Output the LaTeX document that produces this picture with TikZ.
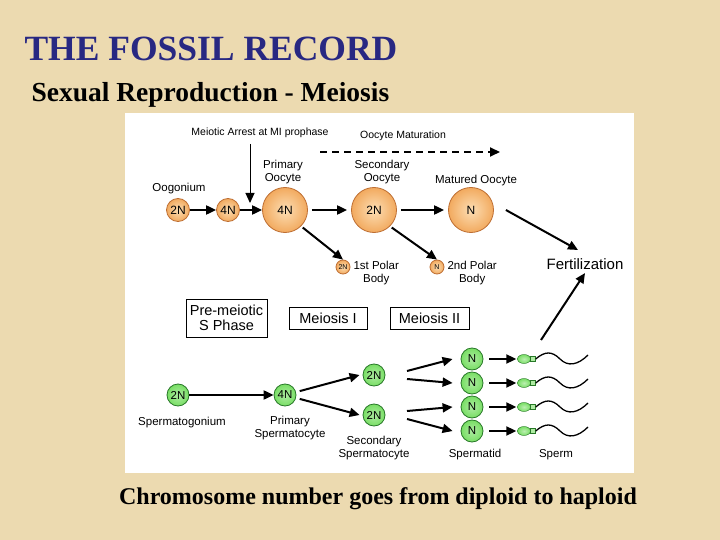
\documentclass[tikz,border=0pt]{standalone}
\usepackage{fontspec}
\setmainfont{Liberation Serif}
\newfontfamily\sa{Liberation Sans}
\usetikzlibrary{arrows.meta,shapes.geometric}
\definecolor{parch}{RGB}{236,218,176}
\definecolor{ttl}{RGB}{40,40,130}
\definecolor{orf}{RGB}{242,170,95}
\definecolor{ori}{RGB}{252,222,180}
\definecolor{oro}{RGB}{190,110,50}
\definecolor{grf}{RGB}{120,222,100}
\definecolor{gro}{RGB}{40,120,40}
\tikzset{
 oc/.style={circle,draw=oro,line width=0.8pt,inner sep=0pt,inner color=ori,outer color=orf,font=\sa\fontsize{12}{12}\selectfont},
 gc/.style={circle,draw=gro,line width=0.8pt,inner sep=0pt,inner color=grf!60!white,outer color=grf,minimum size=22pt,font=\sa\fontsize{11.5}{11.5}\selectfont},
 lab/.style={font=\sa\fontsize{11.5}{13}\selectfont,align=center},
 ar/.style={-{Triangle[length=10pt,width=9pt]},line width=2pt},
 bx/.style={draw,line width=0.8pt,font=\sa\fontsize{14.5}{15}\selectfont,align=center,inner sep=1.5pt}
}
\begin{document}
\begin{tikzpicture}[x=1pt,y=-1pt]
\fill[parch] (0,0) rectangle (720,540);
\useasboundingbox (0,0) rectangle (720,540);
\fill[white] (125,113) rectangle (634,473);
\node[anchor=west,text=ttl,font=\bfseries\fontsize{35.5}{35}\selectfont] (title) at (21,49) {THE FOSSIL RECORD};
\node[anchor=west,font=\bfseries\fontsize{27.5}{27}\selectfont] (sub) at (28,95) {Sexual Reproduction - Meiosis};
\node[font=\bfseries\fontsize{24}{24}\selectfont] (cap) at (378,499) {Chromosome number goes from diploid to haploid};
% oocyte
\node[oc,minimum size=23pt] (o1) at (178,210) {2N};
\node[oc,minimum size=23pt] (o2) at (228,210) {4N};
\node[oc,minimum size=45pt] (o3) at (285,210) {4N};
\node[oc,minimum size=45pt] (o4) at (374,210) {2N};
\node[oc,minimum size=45pt] (o5) at (471,210) {N};
\node[oc,minimum size=14pt,font=\sa\fontsize{7}{7}\selectfont] (p1) at (343,267) {2N};
\node[oc,minimum size=14pt,font=\sa\fontsize{7}{7}\selectfont] (p2) at (437,267) {N};
\node[lab] (l1) at (179,189) {Oogonium};
\node[lab] (l2) at (283,172) {Primary\\Oocyte};
\node[lab] (l3) at (382,172) {Secondary\\Oocyte};
\node[lab] (l4) at (476,181) {Matured Oocyte};
\node[lab,anchor=west] (l5) at (350,273) {1st Polar\\Body};
\node[lab,anchor=west] (l6) at (444,273) {2nd Polar\\Body};
\node[lab,font=\sa\fontsize{10.5}{10}\selectfont] (l7) at (260,133) {Meiotic Arrest at MI prophase};
\node[lab,font=\sa\fontsize{10.5}{10}\selectfont] (l8) at (403,136) {Oocyte Maturation};
\node[font=\sa\fontsize{15}{15}\selectfont] (fert) at (585,264) {Fertilization};
\coordinate (d1) at (320,152); \coordinate (d2) at (500,152);
\draw[ar,dash pattern=on 7pt off 5pt] (d1) -- (d2);
\coordinate (v1) at (250,144); \coordinate (v2) at (250,203);
\draw[ar,line width=1pt] (v1) -- (v2);
\draw[ar] (o1) -- (o2);
\draw[ar] (o2) -- (o3);
\draw[ar] ([xshift=4pt]o3.east) -- ([xshift=-4pt]o4.west);
\draw[ar] ([xshift=4pt]o4.east) -- ([xshift=-4pt]o5.west);
\draw[ar] ([xshift=3pt]o3.-50) -- (p1.north);
\draw[ar] ([xshift=3pt]o4.-50) -- (p2.north);
\draw[ar] ([xshift=12pt]o5.east) -- (578,250);
% boxes
\node[bx,minimum width=81pt,minimum height=38pt] (b1) at (226.5,318) {Pre-meiotic\\S Phase};
\node[bx,minimum width=78pt,minimum height=22pt] (b2) at (328,318) {Meiosis I};
\node[bx,minimum width=79pt,minimum height=22pt] (b3) at (429.5,318) {Meiosis II};
% sperm
\node[gc] (s1) at (178,395) {2N};
\node[gc] (s2) at (285,395) {4N};
\node[gc] (s3) at (374,375) {2N};
\node[gc] (s4) at (374,415) {2N};
\foreach \i/\y in {1/359,2/383,3/407,4/431}{
 \node[draw=gro,inner color=grf!50!white,outer color=grf,ellipse,minimum width=13pt,minimum height=9pt,inner sep=0pt] (h\i) at (524,\y) {};
 \node[gc] (t\i) at (472,\y) {N};
 \draw[ar] ([xshift=6pt]t\i.east) -- ([xshift=-1pt]h\i.west);
 \node[draw=gro,fill=grf!60!white,minimum width=5pt,minimum height=5pt,inner sep=0pt] (n\i) at (533,\y) {};
 \draw[line width=1.3pt] (n\i.east) .. controls (545,\y-8) and (552,\y-8) .. (560,\y) .. controls (568,\y+8) and (578,\y+6) .. (588,\y-4);
}
\draw[ar] (s1) -- (s2);
\draw[ar] ([xshift=4pt]s2.20) -- ([xshift=-3pt]s3.west);
\draw[ar] ([xshift=4pt]s2.-20) -- ([xshift=-3pt]s4.west);
\draw[ar] (407,371) -- ([xshift=-8pt]t1.west);
\draw[ar] (407,379) -- ([xshift=-8pt]t2.west);
\draw[ar] (407,411) -- ([xshift=-8pt]t3.west);
\draw[ar] (407,419) -- ([xshift=-8pt]t4.west);
\coordinate (fa) at (541,340);
\draw[ar] (fa) -- (fert.south);
\node[lab] (m1) at (182,423) {Spermatogonium};
\node[lab] (m2) at (290,428) {Primary\\Spermatocyte};
\node[lab] (m3) at (374,448) {Secondary\\Spermatocyte};
\node[lab] (m4) at (475,455) {Spermatid};
\node[lab] (m5) at (556,455) {Sperm};
\end{tikzpicture}
\end{document}
